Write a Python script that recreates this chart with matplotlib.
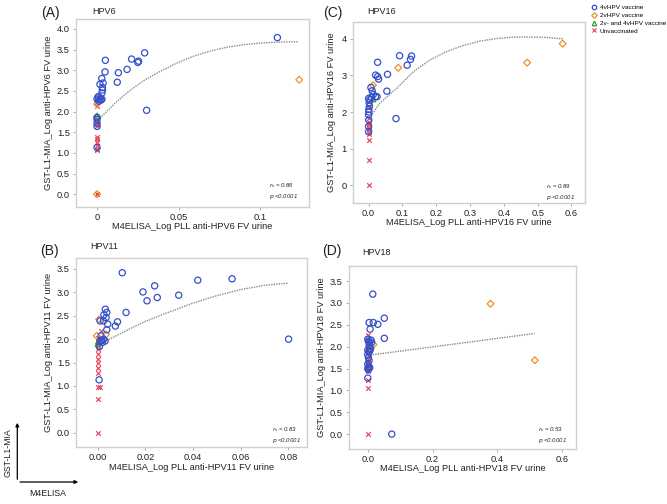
import matplotlib
matplotlib.use("Agg")
import matplotlib.pyplot as plt
from matplotlib.lines import Line2D

plt.rcParams['font.family'] = ['Liberation Sans', 'DejaVu Sans']

# ---------------- data ----------------
# Panel A  (HPV6)
A_blue_x = [0.1106, 0.0292, 0.0212, 0.0255, 0.025, 0.0184, 0.0131, 0.0124, 0.0051, 0.0049, 0.0304,
            0.0029, 0.0018, 0.0037, 0.0033, 0.0033, 0.003, 0.001, 0.002, 0.003, 0.0005, 0.0015, 0.0025,
            0.0, 0.001, 0.0, 0.0, 0.0, 0.0, 0.0]
A_blue_y = [3.79, 3.42, 3.27, 3.22, 3.19, 3.02, 2.94, 2.71, 3.24, 2.96, 2.03,
            2.80, 2.66, 2.69, 2.58, 2.52, 2.45, 2.36, 2.32, 2.30, 2.35, 2.28, 2.28,
            2.30, 2.25, 1.86, 1.81, 1.72, 1.64, 1.13]
A_orange_x = [0.124, 0.0, 0.0]
A_orange_y = [2.77, 2.18, 0.0]
A_green_x = [0.0]
A_green_y = [1.90]
A_red_x = [0.0] * 13
A_red_y = [2.14, 1.83, 1.76, 1.70, 1.66, 1.39, 1.34, 1.27, 1.17, 1.10, 1.07, 0.0, 0.0]
A_fit_x = [0.0018, 0.011, 0.0192, 0.0294, 0.0396, 0.0498, 0.060, 0.070, 0.080, 0.0906, 0.1008, 0.111, 0.1237]
A_fit_y = [1.84, 2.20, 2.48, 2.77, 2.99, 3.19, 3.35, 3.47, 3.56, 3.62, 3.66, 3.68, 3.69]

# Panel B  (HPV11)
B_blue_x = [0.0801, 0.0103, 0.0564, 0.042, 0.0239, 0.019, 0.025, 0.0207, 0.034, 0.0119, 0.0083, 0.0074,
            0.0038, 0.0032, 0.0026, 0.0035, 0.0024, 0.001, 0.0042, 0.0038, 0.0014, 0.0017, 0.0024, 0.0031,
            0.0007, 0.0006, 0.002, 0.001]
B_blue_y = [2.0, 3.42, 3.29, 3.26, 3.14, 3.01, 2.89, 2.82, 2.94, 2.57, 2.37, 2.28,
            2.57, 2.64, 2.52, 2.46, 2.39, 2.39, 2.32, 2.20, 2.07, 1.98, 2.00, 1.96,
            1.84, 1.13, 1.93, 1.95]
B_orange_x = [0.0006, -0.0004, 0.0035]
B_orange_y = [2.42, 2.07, 2.10]
B_green_x = [0.0002, 0.0]
B_green_y = [1.95, 1.90]
B_red_x = [0.0012, 0, 0, 0, 0, 0, 0, 0, 0, 0, 0, 0, 0.0009, 0, 0]
B_red_y = [2.17, 2.03, 1.98, 1.91, 1.85, 1.79, 1.68, 1.58, 1.48, 1.38, 1.27, 0.97, 0.97, 0.71, 0.0]
B_fit_x = [0.001, 0.005, 0.01, 0.015, 0.02, 0.03, 0.04, 0.05, 0.06, 0.07, 0.08]
B_fit_y = [1.88, 2.00, 2.13, 2.26, 2.38, 2.58, 2.77, 2.93, 3.06, 3.15, 3.20]

# Panel C  (HPV16)
C_blue_x = [0.0917, 0.127, 0.124, 0.114, 0.0266, 0.0207, 0.0266, 0.0296, 0.056, 0.054, 0.081,
            0.0069, 0.0106, 0.0138, 0.0205, 0.025, 0.0, 0.008, 0.0035, 0.0015, 0.0025, 0.0005,
            0.0008, 0.0, 0.0005, 0.0, 0.0]
C_blue_y = [3.54, 3.53, 3.44, 3.28, 3.36, 3.01, 2.97, 2.90, 3.03, 2.57, 1.82,
            2.67, 2.58, 2.48, 2.42, 2.42, 2.37, 2.40, 2.33, 2.26, 2.16, 2.07,
            2.00, 1.92, 1.78, 1.60, 1.46]
C_orange_x = [0.0128, 0.0877, 0.469, 0.574]
C_orange_y = [2.73, 3.21, 3.35, 3.87]
C_green_x = [0.0138]
C_green_y = [2.35]
C_red_x = [0, 0, 0, 0, 0, 0, 0, 0, 0.0015, 0, 0]
C_red_y = [2.15, 1.83, 1.73, 1.66, 1.60, 1.54, 1.46, 1.40, 1.23, 0.70, 0.0]
C_fit_x = [0.003, 0.033, 0.083, 0.132, 0.181, 0.23, 0.28, 0.33, 0.378, 0.43, 0.477, 0.526, 0.575]
C_fit_y = [1.83, 2.24, 2.65, 3.10, 3.42, 3.65, 3.82, 3.94, 4.01, 4.05, 4.05, 4.04, 4.00]

# Panel D  (HPV18)
D_blue_x = [0.0154, 0.051, 0.004, 0.017, 0.031, 0.007, 0.051, 0.074, 0.0, 0.0, 0.002, 0.005,
            0.01, 0.012, 0.004, 0.008, 0.0, 0.003, 0.006, 0.0, 0.002, 0.004, 0.0, 0.003, 0.006,
            0.0, 0.002]
D_blue_y = [3.20, 2.65, 2.55, 2.55, 2.51, 2.40, 2.19, 0.0, 1.28, 2.17, 2.12, 2.10,
            2.15, 2.10, 2.02, 1.95, 1.92, 1.88, 1.90, 1.82, 1.75, 1.68, 1.60, 1.55, 1.52,
            1.50, 1.47]
D_orange_x = [0.379, 0.516, 0.0175]
D_orange_y = [2.98, 1.69, 2.05]
D_green_x = [0.012]
D_green_y = [2.02]
D_red_x = [0, 0, 0.003, 0, 0, 0, 0.003, 0, 0, 0, 0, 0, 0, 0, 0]
D_red_y = [2.27, 2.15, 2.08, 2.00, 1.92, 1.85, 1.80, 1.72, 1.65, 1.58, 1.52, 1.45, 1.24, 1.05, 0.0]
D_fit_x = [0.0, 0.515]
D_fit_y = [1.80, 2.30]

labels_legend = ["4vHPV vaccine", "2vHPV vaccine", "2v- and 4vHPV vaccine", "Unvaccinated"]
stats = ["0.86", "0.83", "0.89", "0.53"]

# ---------------- styling ----------------
BLUE = "#3550c8"
ORANGE = "#f0902a"
GREEN = "#2ca02c"
RED = "#ec3a55"
SPINE = "#d0d0d0"
TXT = "#222222"

W, H = 667, 504
fig = plt.figure(figsize=(W / 100, H / 100), dpi=100)


def rect(l, t, r, b):
    return [l / W, 1 - b / H, (r - l) / W, (b - t) / H]


panels = [
    dict(rect=rect(76, 19, 309, 207), xlim=(-0.0129, 0.130), ylim=(-0.31, 4.24),
         xt=[0, 0.05, 0.1], xtl=["0", "0.05", "0.1"],
         yt=[0, 0.5, 1, 1.5, 2, 2.5, 3, 3.5, 4], ytl=["0.0", "0.5", "1.0", "1.5", "2.0", "2.5", "3.0", "3.5", "4.0"],
         blue=(A_blue_x, A_blue_y), orange=(A_orange_x, A_orange_y), green=(A_green_x, A_green_y),
         red=(A_red_x, A_red_y), fit=(A_fit_x, A_fit_y), hpv="HPV6", tag="(A)", st=stats[0],
         ylc=-0.099, xlc=-0.08, tagpos=(41, 6), hpvpos=(92, 7), stpos=(269, 181)),
    dict(rect=rect(76, 258, 306.7, 447), xlim=(-0.0091, 0.0877), ylim=(-0.306, 3.735),
         xt=[0, 0.02, 0.04, 0.06, 0.08], xtl=["0.00", "0.02", "0.04", "0.06", "0.08"],
         yt=[0, 0.5, 1, 1.5, 2, 2.5, 3, 3.5], ytl=["0.0", "0.5", "1.0", "1.5", "2.0", "2.5", "3.0", "3.5"],
         blue=(B_blue_x, B_blue_y), orange=(B_orange_x, B_orange_y), green=(B_green_x, B_green_y),
         red=(B_red_x, B_red_y), fit=(B_fit_x, B_fit_y), hpv="HPV11", tag="(B)", st=stats[1],
         ylc=-0.10, xlc=-0.085, tagpos=(40, 244), hpvpos=(90, 242), stpos=(272, 425)),
    dict(rect=rect(352.7, 21.7, 585, 202.7), xlim=(-0.047, 0.64), ylim=(-0.48, 4.47),
         xt=[0, 0.1, 0.2, 0.3, 0.4, 0.5, 0.6], xtl=["0.0", "0.1", "0.2", "0.3", "0.4", "0.5", "0.6"],
         yt=[0, 1, 2, 3, 4], ytl=["0", "1", "2", "3", "4"],
         blue=(C_blue_x, C_blue_y), orange=(C_orange_x, C_orange_y), green=(C_green_x, C_green_y),
         red=(C_red_x, C_red_y), fit=(C_fit_x, C_fit_y), hpv="HPV16", tag="(C)", st=stats[2],
         ylc=-0.072, xlc=-0.082, tagpos=(323, 6), hpvpos=(367, 7), stpos=(546, 182)),
    dict(rect=rect(349, 265.7, 575.7, 449), xlim=(-0.058, 0.642), ylim=(-0.34, 3.85),
         xt=[0, 0.2, 0.4, 0.6], xtl=["0.0", "0.2", "0.4", "0.6"],
         yt=[0, 0.5, 1, 1.5, 2, 2.5, 3, 3.5], ytl=["0.0", "0.5", "1.0", "1.5", "2.0", "2.5", "3.0", "3.5"],
         blue=(D_blue_x, D_blue_y), orange=(D_orange_x, D_orange_y), green=(D_green_x, D_green_y),
         red=(D_red_x, D_red_y), fit=(D_fit_x, D_fit_y), hpv="HPV18", tag="(D)", st=stats[3],
         ylc=-0.101, xlc=-0.082, tagpos=(322, 244), hpvpos=(362, 248), stpos=(538, 425)),
]

xlabels = ["M4ELISA_Log PLL anti-HPV6 FV urine", "M4ELISA_Log PLL anti-HPV11 FV urine",
           "M4ELISA_Log PLL anti-HPV16 FV urine", "M4ELISA_Log PLL anti-HPV18 FV urine"]
ylabels = ["GST-L1-MIA_Log anti-HPV6 FV urine", "GST-L1-MIA_Log anti-HPV11 FV urine",
           "GST-L1-MIA_Log anti-HPV16 FV urine", "GST-L1-MIA_Log anti-HPV18 FV urine"]

ms = 20
for p, xl, yl in zip(panels, xlabels, ylabels):
    ax = fig.add_axes(p["rect"])
    ax.set_xlim(*p["xlim"])
    ax.set_ylim(*p["ylim"])
    for s in ax.spines.values():
        s.set_color(SPINE)
        s.set_linewidth(1.0)
    ax.set_xticks(p["xt"])
    ax.set_xticklabels(p["xtl"])
    ax.set_yticks(p["yt"])
    ax.set_yticklabels(p["ytl"])
    ax.tick_params(length=2.5, width=0.7, color="#aaaaaa", labelsize=6.7, labelcolor=TXT, pad=2)
    ax.plot(p["fit"][0], p["fit"][1], color="#8a8a8a", lw=1.0, ls=(0, (1, 0.8)), zorder=1)
    ax.scatter(*p["red"], marker="x", s=11, color=RED, linewidths=0.8, zorder=2)
    ax.scatter(*p["green"], marker="^", s=13, facecolors="none", edgecolors=GREEN, linewidths=0.9, zorder=3)
    ax.scatter(*p["orange"], marker="D", s=12, facecolors="none", edgecolors=ORANGE, linewidths=0.9, zorder=3)
    ax.scatter(*p["blue"], marker="o", s=ms, facecolors="none", edgecolors=BLUE, linewidths=0.9, zorder=4)
    ax.set_xlabel(xl, fontsize=6.7, color=TXT)
    ax.set_ylabel(yl, fontsize=6.7, color=TXT)
    ax.yaxis.set_label_coords(p["ylc"], 0.5)
    ax.xaxis.set_label_coords(0.5, p["xlc"])
    fig.text(p["tagpos"][0] / W, 1 - p["tagpos"][1] / H, p["tag"], fontsize=10, ha="left", va="top", color=TXT)
    fig.text(p["hpvpos"][0] / W, 1 - p["hpvpos"][1] / H, p["hpv"], fontsize=6.5, ha="left", va="top", color=TXT)
    fig.text(p["stpos"][0] / W, 1 - p["stpos"][1] / H,
             r"$r_s$ = " + p["st"] + "\n" + r"$p$ <0.0001",
             fontsize=4.3, ha="left", va="top", color=TXT, linespacing=1.4, style="italic")

# legend
handles = [
    Line2D([], [], ls="none", marker="o", ms=3.2, mfc="none", mec=BLUE, mew=0.9),
    Line2D([], [], ls="none", marker="D", ms=2.8, mfc="none", mec=ORANGE, mew=0.9),
    Line2D([], [], ls="none", marker="^", ms=3.2, mfc="none", mec=GREEN, mew=0.9),
    Line2D([], [], ls="none", marker="x", ms=3.0, color=RED, mew=0.8),
]
fig.legend(handles, labels_legend, loc="upper left", bbox_to_anchor=(591 / W, 1 - 5 / H),
           frameon=False, fontsize=4.6, handlelength=0.8, handletextpad=0.6,
           labelspacing=0.35, borderpad=0, borderaxespad=0)

# orientation arrows (bottom-left)
fig.add_artist(matplotlib.patches.FancyArrowPatch((17.3 / W, 1 - 482 / H), (17.3 / W, 1 - 420 / H),
                                                  transform=fig.transFigure, arrowstyle="-|>",
                                                  mutation_scale=5, lw=0.9, color="black"))
fig.add_artist(matplotlib.patches.FancyArrowPatch((17.3 / W, 1 - 482 / H), (81 / W, 1 - 482 / H),
                                                  transform=fig.transFigure, arrowstyle="-|>",
                                                  mutation_scale=5, lw=0.9, color="black"))
fig.text(8.5 / W, 1 - 453 / H, "GST-L1-MIA", rotation=90, fontsize=6.3, ha="center", va="center", color=TXT)
fig.text(48 / W, 1 - 493 / H, "M4ELISA", fontsize=6.3, ha="center", va="center", color=TXT)

fig.savefig("out.png", dpi=100)
